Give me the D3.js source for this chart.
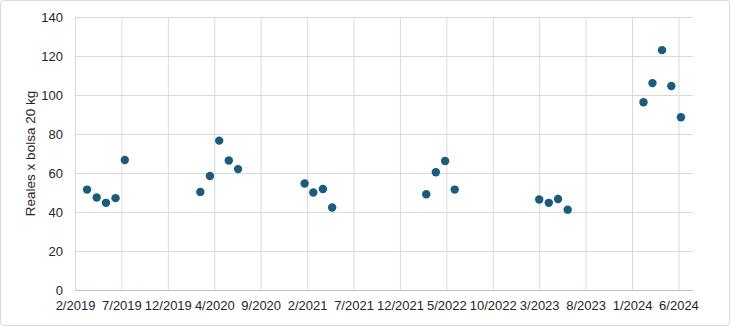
<!DOCTYPE html>
<html>
<head>
<meta charset="utf-8">
<script src="https://cdn.jsdelivr.net/npm/d3@7"></script>
<style>
  html, body { margin:0; padding:0; background:#fff; }
  .grid line { stroke:#d9d9d9; stroke-width:1; }
  .grid path { display:none; }
  .axis text { font-family:"Liberation Sans", Arial, sans-serif; font-size:13px; fill:#262626; }
  .axis line { display:none; }
</style>
</head>
<body>
<div id="chart"></div>
<script>
// monthly observations, one per point (dated mid-month)
const DATES = [
  "2019-03-15","2019-04-15","2019-05-15","2019-06-15","2019-07-15",
  "2020-03-15","2020-04-15","2020-05-15","2020-06-15","2020-07-15",
  "2021-02-15","2021-03-15","2021-04-15","2021-05-15",
  "2022-03-15","2022-04-15","2022-05-15","2022-06-15",
  "2023-03-15","2023-04-15","2023-05-15","2023-06-15",
  "2024-02-15","2024-03-15","2024-04-15","2024-05-15","2024-06-15"
];
const PRICES = [
  51.5, 47.4, 44.7, 47.1, 66.7,
  50.3, 58.5, 76.6, 66.4, 62.0,
  54.6, 50.0, 51.8, 42.3,
  49.1, 60.4, 66.2, 51.5,
  46.4, 44.7, 46.7, 41.2,
  96.3, 106.1, 123.0, 104.6, 88.6
];
const Y_TICKS = [0, 20, 40, 60, 80, 100, 120, 140];
const X_START = "2019-02-04", X_END = "2024-07-24";
const X_STEP_DAYS = 150;   // excel date axis: major unit 150 days
const Y_LABEL = "Reales x bolsa 20 kg";

const totalW = 730, totalH = 326;
const margin = { top:17, right:37, bottom:36, left:75 };
const W = totalW - margin.left - margin.right, H = totalH - margin.top - margin.bottom;

const parse = d3.utcParse("%Y-%m-%d");
const DAY = 864e5;
const t0 = parse(X_START), t1 = parse(X_END);
const xTicks = d3.range(+t0, +t1 + 1, X_STEP_DAYS * DAY).map(t => new Date(t));

const root = d3.select("#chart").append("svg").attr("width", totalW).attr("height", totalH);
root.append("rect").attr("x", 0.5).attr("y", 0.5).attr("width", totalW - 1).attr("height", totalH - 1)
    .attr("rx", 3).attr("fill", "#fff").attr("stroke", "#d9d9d9");

const svg = root.append("g").attr("transform", `translate(${margin.left},${margin.top})`);

const x = d3.scaleUtc().domain([t0, t1]).range([0, W]);
const y = d3.scaleLinear().domain([0, 140]).range([H, 0]);

svg.append("g").attr("class", "grid").call(d3.axisLeft(y).tickValues(Y_TICKS).tickSize(-W).tickFormat(""));
svg.append("g").attr("class", "grid").attr("transform", `translate(0,${H})`)
    .call(d3.axisBottom(x).tickValues(xTicks).tickSize(H).tickFormat("")).selectAll("line").attr("y2", -H);
svg.append("line").attr("x1", 0).attr("x2", W).attr("y1", H + 0.5).attr("y2", H + 0.5).attr("stroke", "#bfbfbf");

svg.selectAll("circle.pt").data(DATES.map((d, i) => ({ date: parse(d), v: PRICES[i] })))
  .enter().append("circle").attr("class", "pt")
    .attr("cx", d => x(d.date)).attr("cy", d => y(d.v)).attr("r", 4.2)
    .attr("fill", "#1a5b7e");

const fmt = d3.utcFormat("%-m/%Y");
const xa = svg.append("g").attr("class", "axis").attr("transform", `translate(0,${H})`)
    .call(d3.axisBottom(x).tickValues(xTicks).tickFormat(fmt).tickSize(0).tickPadding(11));
xa.select("path").remove();
const ya = svg.append("g").attr("class", "axis")
    .call(d3.axisLeft(y).tickValues(Y_TICKS).tickSize(0).tickPadding(12));
ya.select("path").remove();

svg.append("text").attr("transform", "rotate(-90)").attr("x", -H / 2).attr("y", -40)
    .attr("text-anchor", "middle").attr("fill", "#262626")
    .style("font-family", "'Liberation Sans', Arial, sans-serif").style("font-size", "13.5px")
    .text(Y_LABEL);
</script>
</body>
</html>
